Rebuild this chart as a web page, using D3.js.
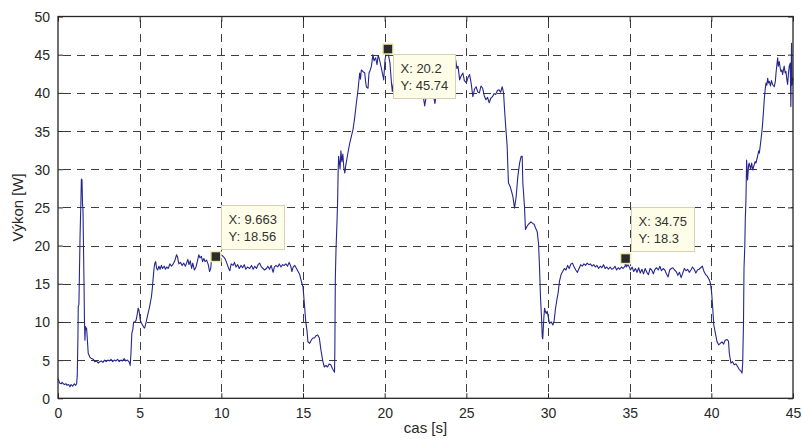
<!DOCTYPE html>
<html>
<head>
<meta charset="utf-8">
<script src="https://cdn.jsdelivr.net/npm/d3@7"></script>
<style>
	body { margin: 0; background: #fff; }
	svg text { font-family: "Liberation Sans", Arial, Helvetica, sans-serif; }
</style>
</head>
<body>
<div id="plot"></div>
<script>

// time axis [s]
var timeS = [
	0.00, 0.05, 0.10, 0.20, 0.25, 0.33, 0.40, 0.50, 0.55, 0.65, 0.73, 0.80, 0.90, 1.00, 1.08, 1.14,
	1.18, 1.22, 1.24, 1.28, 1.31, 1.35, 1.40, 1.43, 1.47, 1.50, 1.53, 1.56, 1.60, 1.62, 1.65, 1.68,
	1.71, 1.75, 1.80, 1.85, 1.95, 2.05, 2.16, 2.25, 2.35, 2.47, 2.55, 2.65, 2.75, 2.85, 2.95, 3.05,
	3.15, 3.25, 3.35, 3.45, 3.55, 3.65, 3.75, 3.85, 3.95, 4.05, 4.15, 4.25, 4.34, 4.40, 4.42, 4.47,
	4.52, 4.58, 4.63, 4.71, 4.78, 4.85, 4.91, 4.96, 5.04, 5.12, 5.20, 5.28, 5.32, 5.40, 5.50, 5.59,
	5.65, 5.72, 5.78, 5.83, 5.88, 5.93, 5.98, 6.04, 6.10, 6.18, 6.25, 6.33, 6.40, 6.50, 6.58, 6.65,
	6.75, 6.85, 6.95, 7.05, 7.15, 7.26, 7.32, 7.40, 7.50, 7.60, 7.70, 7.80, 7.87, 7.95, 8.02, 8.10,
	8.18, 8.25, 8.35, 8.45, 8.55, 8.62, 8.69, 8.78, 8.85, 8.93, 9.00, 9.10, 9.20, 9.28, 9.35, 9.40,
	9.50, 9.58, 9.663, 9.75, 9.85, 9.95, 10.05, 10.15, 10.25, 10.35, 10.45, 10.52, 10.60, 10.72, 10.80, 10.90,
	11.00, 11.10, 11.20, 11.30, 11.40, 11.50, 11.60, 11.74, 11.85, 11.95, 12.05, 12.15, 12.25, 12.35, 12.45, 12.55,
	12.65, 12.76, 12.85, 12.95, 13.05, 13.17, 13.25, 13.35, 13.45, 13.55, 13.65, 13.75, 13.85, 13.95, 14.05, 14.15,
	14.25, 14.32, 14.40, 14.50, 14.60, 14.70, 14.80, 14.90, 15.00, 15.08, 15.17, 15.25, 15.30, 15.41, 15.50, 15.60,
	15.70, 15.80, 15.90, 16.00, 16.10, 16.20, 16.30, 16.40, 16.50, 16.60, 16.70, 16.80, 16.88, 16.93, 16.95, 16.98,
	17.02, 17.08, 17.12, 17.15, 17.18, 17.22, 17.27, 17.32, 17.38, 17.44, 17.50, 17.56, 17.62, 17.70, 17.78, 17.86,
	17.95, 18.06, 18.15, 18.27, 18.37, 18.47, 18.52, 18.57, 18.67, 18.78, 18.83, 18.88, 18.98, 19.04, 19.12, 19.19,
	19.28, 19.35, 19.45, 19.53, 19.60, 19.65, 19.72, 19.80, 19.87, 19.94, 20.02, 20.10, 20.14, 20.20, 20.26, 20.32,
	20.37, 20.42, 20.47, 20.55, 20.70, 20.85, 21.00, 21.15, 21.30, 21.45, 21.60, 21.75, 21.90, 22.05, 22.20, 22.35,
	22.45, 22.55, 22.70, 22.85, 23.00, 23.08, 23.15, 23.30, 23.45, 23.60, 23.75, 23.90, 24.05, 24.18, 24.28, 24.35,
	24.42, 24.49, 24.59, 24.68, 24.79, 24.88, 25.00, 25.10, 25.20, 25.30, 25.40, 25.50, 25.60, 25.70, 25.80, 25.90,
	26.00, 26.10, 26.20, 26.30, 26.40, 26.50, 26.60, 26.70, 26.80, 26.90, 27.00, 27.10, 27.20, 27.28, 27.34, 27.44,
	27.50, 27.54, 27.58, 27.69, 27.78, 27.85, 27.95, 28.05, 28.15, 28.26, 28.36, 28.42, 28.46, 28.56, 28.62, 28.71,
	28.80, 28.87, 28.95, 29.07, 29.15, 29.24, 29.34, 29.42, 29.48, 29.54, 29.60, 29.65, 29.68, 29.72, 29.75, 29.79,
	29.85, 29.89, 29.95, 30.03, 30.09, 30.20, 30.30, 30.38, 30.45, 30.55, 30.62, 30.70, 30.80, 30.90, 31.00, 31.10,
	31.20, 31.30, 31.40, 31.50, 31.60, 31.70, 31.80, 31.90, 32.00, 32.10, 32.20, 32.30, 32.40, 32.50, 32.60, 32.70,
	32.80, 32.90, 33.00, 33.10, 33.20, 33.30, 33.40, 33.50, 33.60, 33.70, 33.80, 33.90, 34.00, 34.10, 34.20, 34.30,
	34.40, 34.50, 34.60, 34.72, 34.75, 34.80, 34.90, 34.98, 35.05, 35.15, 35.25, 35.35, 35.45, 35.55, 35.65, 35.75,
	35.85, 35.95, 36.05, 36.15, 36.25, 36.35, 36.45, 36.55, 36.65, 36.75, 36.85, 36.95, 37.05, 37.15, 37.25, 37.35,
	37.45, 37.55, 37.65, 37.75, 37.85, 37.95, 38.05, 38.15, 38.25, 38.35, 38.45, 38.55, 38.65, 38.75, 38.85, 38.95,
	39.05, 39.15, 39.25, 39.35, 39.45, 39.55, 39.65, 39.75, 39.88, 39.95, 40.02, 40.08, 40.15, 40.25, 40.35, 40.45,
	40.55, 40.65, 40.75, 40.85, 40.95, 41.05, 41.10, 41.20, 41.30, 41.40, 41.50, 41.60, 41.70, 41.80, 41.88, 41.92,
	41.97, 42.00, 42.05, 42.08, 42.12, 42.16, 42.22, 42.28, 42.32, 42.40, 42.47, 42.53, 42.60, 42.68, 42.73, 42.82,
	42.90, 42.94, 43.04, 43.10, 43.14, 43.20, 43.24, 43.30, 43.35, 43.40, 43.45, 43.50, 43.55, 43.62, 43.68, 43.75,
	43.85, 43.92, 43.96, 44.06, 44.10, 44.16, 44.22, 44.26, 44.32, 44.36, 44.46, 44.52, 44.57, 44.62, 44.67, 44.72,
	44.77, 44.83, 44.87, 44.91, 44.95, 45.00
];

// power [W]
var powerW = [
	2.6, 2.3, 2.0, 1.9, 2.1, 1.9, 1.8, 1.9, 1.7, 1.8, 1.5, 1.8, 1.6, 1.9, 1.7, 1.9,
	3.0, 8.0, 12.0, 12.3, 16.0, 21.2, 25.5, 28.7, 28.6, 25.5, 24.7, 20.0, 14.0, 10.0, 7.6, 9.4,
	9.0, 9.2, 7.6, 5.9, 5.4, 5.2, 5.1, 4.8, 4.9, 4.6, 4.8, 4.9, 4.7, 5.0, 4.8, 5.0,
	4.9, 5.1, 4.8, 5.0, 4.9, 5.1, 4.8, 5.0, 4.9, 5.2, 4.9, 5.0, 4.8, 4.5, 4.3, 6.0,
	8.5, 9.0, 10.0, 10.0, 10.2, 11.0, 11.8, 11.5, 10.2, 9.8, 9.5, 9.2, 9.3, 10.0, 11.0, 11.8,
	12.5, 13.3, 14.5, 15.8, 17.0, 17.7, 17.9, 17.0, 16.8, 17.3, 16.9, 17.4, 17.0, 17.3, 16.9, 17.2,
	17.0, 17.6, 17.3, 17.6, 18.0, 18.8, 18.5, 17.6, 17.8, 17.4, 17.7, 17.3, 17.7, 18.2, 17.5, 18.0,
	17.0, 17.7, 16.8, 17.2, 18.1, 18.8, 18.4, 18.6, 17.9, 18.3, 17.9, 18.1, 17.5, 16.6, 17.0, 18.2,
	18.4, 18.6, 18.56, 18.1, 18.3, 18.8, 18.7, 18.5, 18.2, 17.6, 17.0, 16.7, 17.6, 17.4, 17.8, 17.2,
	17.5, 17.0, 17.4, 17.1, 17.5, 16.9, 17.2, 17.0, 17.4, 16.9, 17.3, 17.0, 17.5, 17.7, 17.2, 17.0,
	16.8, 17.0, 17.3, 16.9, 17.4, 16.5, 17.2, 17.4, 17.2, 17.6, 17.2, 17.5, 17.4, 17.6, 17.3, 17.8,
	17.3, 16.6, 17.2, 17.4, 17.0, 16.6, 16.2, 15.3, 14.6, 12.5, 10.0, 8.8, 7.4, 7.2, 7.6, 7.9,
	7.9, 8.2, 8.3, 7.9, 6.3, 5.0, 4.1, 4.3, 4.1, 4.5, 4.4, 3.9, 3.6, 3.4, 6.3, 15.8,
	19.4, 23.0, 25.8, 29.5, 31.7, 31.0, 30.0, 32.4, 31.0, 32.0, 30.2, 29.5, 30.5, 31.5, 32.5, 33.4,
	34.2, 35.2, 36.5, 38.7, 40.4, 42.6, 41.8, 43.0, 42.8, 42.6, 41.5, 40.8, 40.6, 42.6, 43.0, 43.5,
	45.0, 44.2, 44.6, 43.7, 44.9, 44.6, 44.0, 43.2, 42.5, 41.7, 44.3, 45.3, 45.0, 45.74, 44.6, 44.0,
	42.6, 41.2, 40.2, 41.5, 42.8, 43.5, 42.5, 43.8, 42.7, 43.2, 41.9, 42.5, 41.0, 41.6, 40.4, 39.8,
	38.3, 39.6, 40.6, 40.0, 39.5, 38.6, 39.8, 40.8, 41.5, 42.3, 41.8, 42.9, 43.3, 42.6, 43.7, 44.3,
	43.2, 43.5, 41.7, 42.2, 42.6, 41.6, 41.3, 42.0, 42.4, 41.2, 39.5, 40.5, 40.8, 40.1, 40.0, 40.9,
	40.6, 39.6, 39.1, 39.4, 38.7, 39.3, 39.5, 39.9, 39.8, 40.3, 40.4, 40.1, 40.8, 40.0, 37.8, 34.7,
	33.0, 30.4, 28.2, 27.7, 27.0, 26.4, 24.9, 26.4, 29.0, 30.8, 31.7, 31.7, 28.2, 25.1, 22.1, 22.5,
	22.8, 22.9, 23.1, 22.9, 22.8, 22.3, 21.8, 20.3, 17.2, 13.3, 10.7, 8.0, 7.8, 9.5, 10.7, 11.8,
	11.3, 11.1, 11.4, 10.5, 9.8, 10.0, 9.6, 10.2, 11.6, 13.0, 13.8, 15.3, 16.2, 16.6, 17.0, 16.8,
	17.4, 17.0, 17.6, 17.7, 17.2, 16.8, 16.5, 17.0, 17.5, 17.3, 17.6, 17.4, 17.7, 17.5, 17.6, 17.3,
	17.5, 17.2, 17.4, 17.0, 17.3, 17.1, 17.5, 17.0, 17.2, 16.9, 17.2, 16.9, 17.0, 17.3, 16.8, 17.1,
	16.9, 17.2, 17.0, 17.3, 18.3, 17.2, 17.5, 17.2, 16.8, 17.2, 16.6, 17.0, 16.5, 17.1, 16.4, 16.9,
	16.3, 17.0, 16.5, 16.2, 17.0, 16.8, 16.3, 16.9, 17.1, 16.8, 17.3, 16.7, 17.0, 16.8, 16.3, 15.9,
	16.8, 17.0, 17.1, 16.8, 16.6, 16.1, 16.5, 15.8, 16.4, 17.0, 16.7, 16.9, 16.5, 16.8, 17.2, 16.9,
	16.4, 16.8, 16.9, 17.1, 17.3, 16.6, 16.2, 16.0, 15.5, 15.0, 13.8, 12.0, 9.6, 8.5, 7.4, 7.0,
	7.2, 7.4, 7.1, 7.6, 7.7, 7.5, 5.9, 4.6, 4.8, 4.4, 4.5, 4.2, 3.8, 3.6, 3.3, 4.6,
	10.0, 17.0, 20.0, 23.5, 26.0, 31.2, 28.6, 30.5, 30.8, 30.0, 30.8, 29.9, 30.4, 31.0, 30.8, 31.6,
	32.4, 32.1, 33.9, 35.0, 36.0, 37.8, 39.1, 40.5, 41.3, 41.0, 41.9, 41.3, 41.5, 40.9, 41.6, 41.1,
	40.8, 41.5, 42.6, 44.6, 43.5, 44.1, 43.2, 42.8, 43.0, 42.4, 43.5, 42.6, 42.8, 41.8, 41.1, 42.5,
	43.5, 43.9, 38.2, 46.5, 41.0, 42.0
];

var xTicks = [0, 5, 10, 15, 20, 25, 30, 35, 40, 45];
var yTicks = [0, 5, 10, 15, 20, 25, 30, 35, 40, 45, 50];

// data cursor tips
var tipTimes = [9.663, 20.2, 34.75];
var tipValues = [18.56, 45.74, 18.3];
var tipLabelsX = ["X: 9.663", "X: 20.2", "X: 34.75"];
var tipLabelsY = ["Y: 18.56", "Y: 45.74", "Y: 18.3"];

var chart = {
	width: 802,
	height: 439,
	left: 58,
	right: 793,
	top: 16.5,
	bottom: 398.3,

	draw: function(){
		var that = this;

		var svg = d3.select("#plot").append("svg")
			.attr("width", this.width)
			.attr("height", this.height);

		var x = d3.scaleLinear().domain([0, 45]).range([this.left, this.right]);
		var y = d3.scaleLinear().domain([0, 50]).range([this.bottom, this.top]);

		//dashed grid, skip the lines that sit on the box
		var grid = svg.append("g")
			.attr("stroke", "#3c3c3c")
			.attr("stroke-width", 1)
			.attr("stroke-dasharray", "8,6")
			.attr("shape-rendering", "crispEdges");

		grid.selectAll("line.gx")
			.data(xTicks.slice(1, -1))
			.enter().append("line")
			.attr("class", "gx")
			.attr("x1", function(d){ return Math.round(x(d)) + 0.5; })
			.attr("x2", function(d){ return Math.round(x(d)) + 0.5; })
			.attr("y1", this.top)
			.attr("y2", this.bottom)
			.attr("stroke-dashoffset", 11);

		grid.selectAll("line.gy")
			.data(yTicks.slice(1, -1))
			.enter().append("line")
			.attr("class", "gy")
			.attr("x1", this.left)
			.attr("x2", this.right)
			.attr("y1", function(d){ return Math.round(y(d)) + 0.5; })
			.attr("y2", function(d){ return Math.round(y(d)) + 0.5; })
			.attr("stroke-dashoffset", 9.5);

		//the signal
		var line = d3.line()
			.x(function(d){ return x(d[0]); })
			.y(function(d){ return y(d[1]); });

		var points = timeS.map(function(t, i){ return [t, powerW[i]]; });

		svg.append("path")
			.datum(points)
			.attr("d", line)
			.attr("fill", "none")
			.attr("stroke", "#26268f")
			.attr("stroke-width", 1.1)
			.attr("stroke-linejoin", "round");

		//axes with inward ticks, like matlab
		var axisColor = "#262626";

		var bottomAxis = d3.axisBottom(x).tickValues(xTicks).tickSizeInner(-5).tickSizeOuter(0).tickPadding(10);
		var leftAxis = d3.axisLeft(y).tickValues(yTicks).tickSizeInner(-5).tickSizeOuter(0).tickPadding(8);
		var topAxis = d3.axisTop(x).tickValues(xTicks).tickSizeInner(-5).tickSizeOuter(0).tickFormat("");
		var rightAxis = d3.axisRight(y).tickValues(yTicks).tickSizeInner(-5).tickSizeOuter(0).tickFormat("");

		var gb = svg.append("g").attr("transform", "translate(0," + this.bottom + ")").call(bottomAxis);
		var gl = svg.append("g").attr("transform", "translate(" + this.left + ",0)").call(leftAxis);
		var gt = svg.append("g").attr("transform", "translate(0," + this.top + ")").call(topAxis);
		var gr = svg.append("g").attr("transform", "translate(" + this.right + ",0)").call(rightAxis);

		[gb, gl, gt, gr].forEach(function(g){
			g.select(".domain").remove();
			g.selectAll(".tick line").attr("stroke", axisColor).attr("stroke-width", 1);
			g.selectAll(".tick text")
				.attr("fill", axisColor)
				.style("font-size", "14px")
				.style("font-family", "'Liberation Sans', Arial, sans-serif");
		});
		gl.selectAll(".tick text").attr("dy", "0.36em");

		//box
		svg.append("rect")
			.attr("x", this.left)
			.attr("y", this.top)
			.attr("width", this.right - this.left)
			.attr("height", this.bottom - this.top)
			.attr("fill", "none")
			.attr("stroke", axisColor)
			.attr("stroke-width", 1.3);

		//labels
		svg.append("text")
			.attr("x", (this.left + this.right) / 2)
			.attr("y", 433)
			.attr("text-anchor", "middle")
			.attr("fill", axisColor)
			.style("font-size", "15px")
			.text("cas [s]");

		svg.append("text")
			.attr("transform", "translate(23," + ((this.top + this.bottom) / 2) + ") rotate(-90)")
			.attr("text-anchor", "middle")
			.attr("fill", axisColor)
			.style("font-size", "15px")
			.text("Výkon [W]");

		//data tips
		tipTimes.forEach(function(t, i){
			that.dataTip(svg, x(t), y(tipValues[i]), tipLabelsX[i], tipLabelsY[i], tipValues[i] > 40);
		});
	},

	dataTip: function(svg, px, py, line1, line2, below){
		var g = svg.append("g");

		var box = g.append("rect")
			.attr("fill", "#fefee8")
			.attr("stroke", "#d6d1b4")
			.attr("stroke-width", 1);

		var txt = g.append("text")
			.attr("fill", "#333")
			.style("font-size", "13px");
		txt.append("tspan").attr("x", 0).attr("y", 0).text(line1);
		txt.append("tspan").attr("x", 0).attr("y", 17.5).text(line2);

		var bb = txt.node().getBBox();
		var w = Math.ceil(bb.width) + 14;
		var h = 44;
		var bx = Math.round(px) + 5.5;
		var by = below ? Math.round(py) + 5.5 : Math.round(py) - 7.5 - h;

		box.attr("x", bx).attr("y", by).attr("width", w).attr("height", h);
		txt.attr("transform", "translate(" + (bx + 7) + "," + (by + 18) + ")");

		//marker square
		g.append("rect")
			.attr("x", px - 5)
			.attr("y", py - 5)
			.attr("width", 10)
			.attr("height", 10)
			.attr("fill", "#2a2a2a")
			.attr("stroke", "#f1eab0")
			.attr("stroke-width", 1.5);
	},

	init: function(){
		this.draw();
	}
};

chart.init();
</script>
</body>
</html>
